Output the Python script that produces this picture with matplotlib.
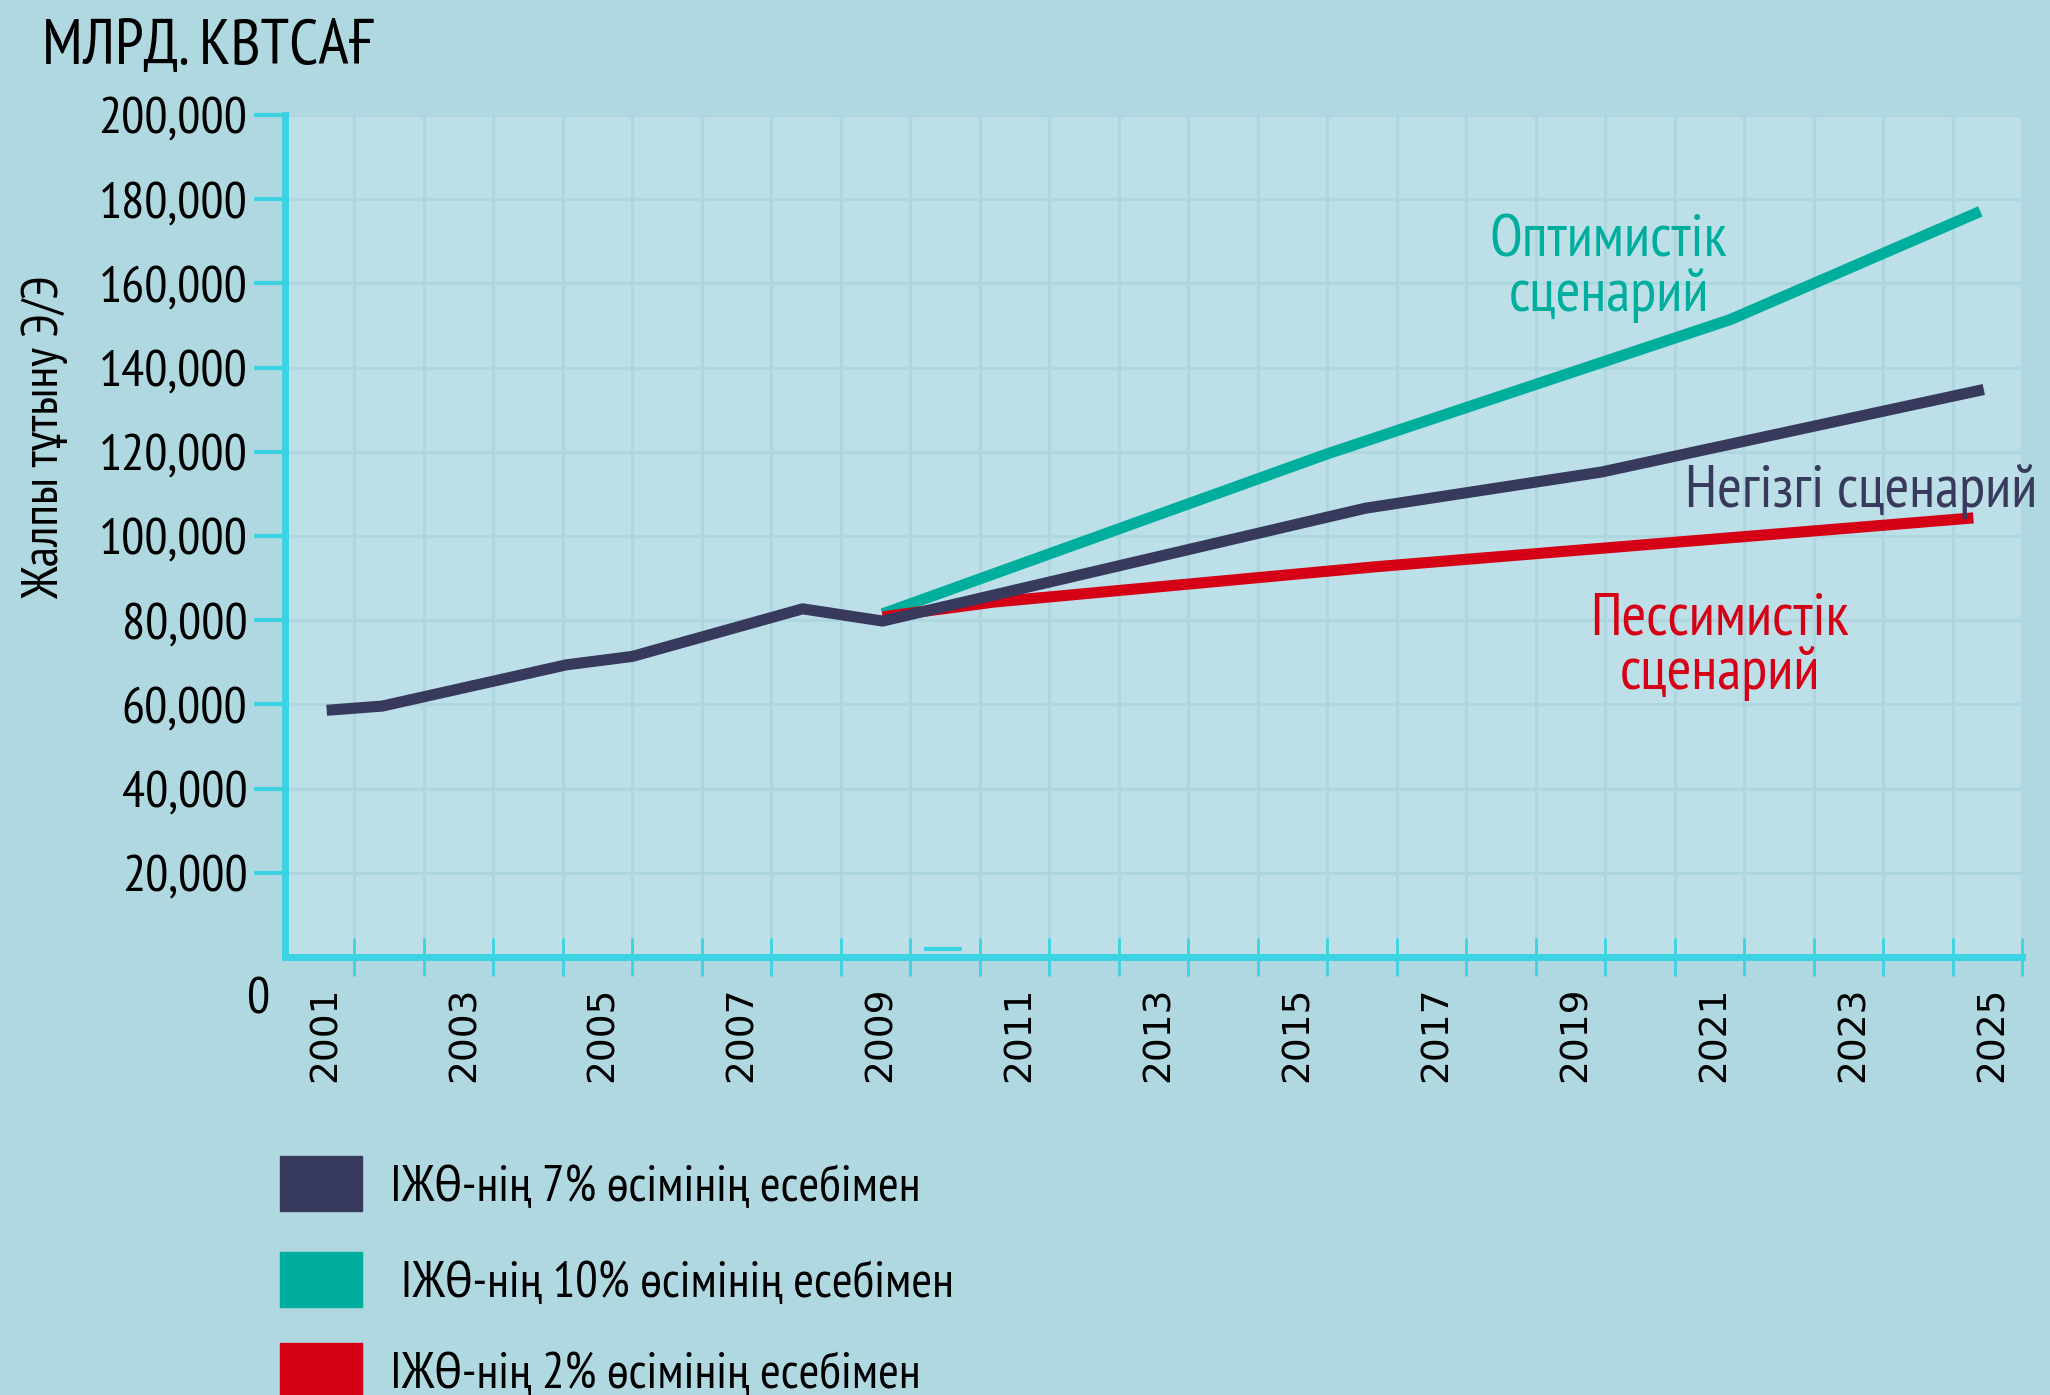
import matplotlib
matplotlib.use('Agg')
import matplotlib.pyplot as plt
import matplotlib.transforms as mtransforms
from matplotlib.patches import Rectangle

# values (x = position along the year axis)
base_years = [2001.1, 2001.9, 2004.55, 2005.5, 2007.95, 2009.1, 2016.05, 2019.45, 2024.95]
base_vals = [58600, 59600, 69400, 71400, 82700, 79800, 106600, 115200, 134800]
opt_years = [2009.1, 2015.5, 2021.3, 2024.9]
opt_vals = [81500, 119500, 151400, 177100]
pes_years = [2009.1, 2010.7, 2016.2, 2024.8]
pes_vals = [80800, 84300, 92700, 104300]

# small stray dash that sits just above the x axis near 2010
dash_years = [2009.7, 2010.25]
dash_vals = [1900, 1900]

year_labels = list(range(2001, 2026, 2))
y_ticks = list(range(20000, 200001, 20000))

legend_labels = ['ІЖӨ-нің 7% өсімінің есебімен',
                 ' ІЖӨ-нің 10% өсімінің есебімен',
                 'ІЖӨ-нің 2% өсімінің есебімен']
colors = ['#373a5c', '#00ae9d', '#d50015']

NF = ['PT Sans Narrow', 'DejaVu Sans']

bg = '#b0d8e0'
face = '#bde0e8'
gridc = '#aed6de'
cyan = '#3bd3e3'

fig = plt.figure(figsize=(20.5, 13.95), dpi=100, facecolor=bg)
ax = fig.add_axes([285 / 2050, 1 - 957 / 1395, (2022 - 285) / 2050, (957 - 115) / 1395])
ax.set_facecolor(face)

ax.plot(base_years, base_vals, color=colors[0], lw=8, solid_capstyle='butt', zorder=4)
ax.plot(opt_years, opt_vals, color=colors[1], lw=8, solid_capstyle='butt', zorder=3)
ax.plot(pes_years, pes_vals, color=colors[2], lw=8, solid_capstyle='butt', zorder=3)
ax.plot(dash_years, dash_vals, color=cyan, lw=3, solid_capstyle='butt', zorder=3)

ax.set_xlim(2000.5, 2025.5)
ax.set_ylim(0, 200000)

ax.set_xticks(year_labels)
ax.set_xticklabels([str(y) for y in year_labels], rotation=90, fontsize=27, family='DejaVu Sans')
ax.set_xticks([y + 0.5 for y in range(2001, 2026)], minor=True)
ax.tick_params(axis='x', which='major', length=0, pad=21)
ax.tick_params(axis='x', which='minor', direction='inout', length=27, width=2, color=cyan)
# nudge the year labels a little to the right, as in the original
shift = mtransforms.ScaledTranslation(4 / 72, 0, fig.dpi_scale_trans)
for lab in ax.get_xticklabels():
    lab.set_transform(lab.get_transform() + shift)

ax.set_yticks(y_ticks)
ax.set_yticklabels([f'{v:,}' for v in y_ticks], fontsize=37, family=NF)
ax.tick_params(axis='y', direction='out', length=22, width=3, color=cyan, pad=5)

ax.grid(True, which='minor', axis='x', color=gridc, lw=2.2)
ax.grid(True, which='major', axis='y', color=gridc, lw=2.2)
ax.set_axisbelow(True)

for s in ['top', 'right']:
    ax.spines[s].set_visible(False)
for s in ['left', 'bottom']:
    ax.spines[s].set_color(cyan)
    ax.spines[s].set_linewidth(5)

ax.annotate('0', xy=(0, 0), xycoords='axes fraction', xytext=(-19, -31),
            textcoords='offset points', ha='center', va='center', fontsize=37, family=NF)

ax.set_ylabel('Жалпы тұтыну Э/Э', fontsize=36, family=NF)
ax.yaxis.set_label_coords(-0.125, 0.617)

ax.text(2019.55, 163500, 'Оптимистік\nсценарий', color=colors[1], fontsize=43, family=NF,
        ha='center', va='center', linespacing=1.0)
ax.text(2020.65, 110600, 'Негізгі сценарий', color=colors[0], fontsize=43, family=NF,
        ha='left', va='center')
ax.text(2021.15, 73700, 'Пессимистік\nсценарий', color=colors[2], fontsize=43, family=NF,
        ha='center', va='center', linespacing=1.0)

fig.text(42 / 2050, 1 - 48 / 1395, 'МЛРД. КВТСАҒ', fontsize=46, family=NF, va='center')

# legend drawn by hand under the chart
box_top = [1156, 1252, 1343]
for top, lab, c in zip(box_top, legend_labels, colors):
    fig.patches.append(Rectangle((280 / 2050, 1 - (top + 55) / 1395), 82 / 2050, 55 / 1395,
                                 transform=fig.transFigure, color=c, figure=fig))
    fig.text(390 / 2050, 1 - (top + 32) / 1395, lab, fontsize=36, family=NF, va='center')

fig.savefig('out.png', dpi=100, facecolor=bg)
